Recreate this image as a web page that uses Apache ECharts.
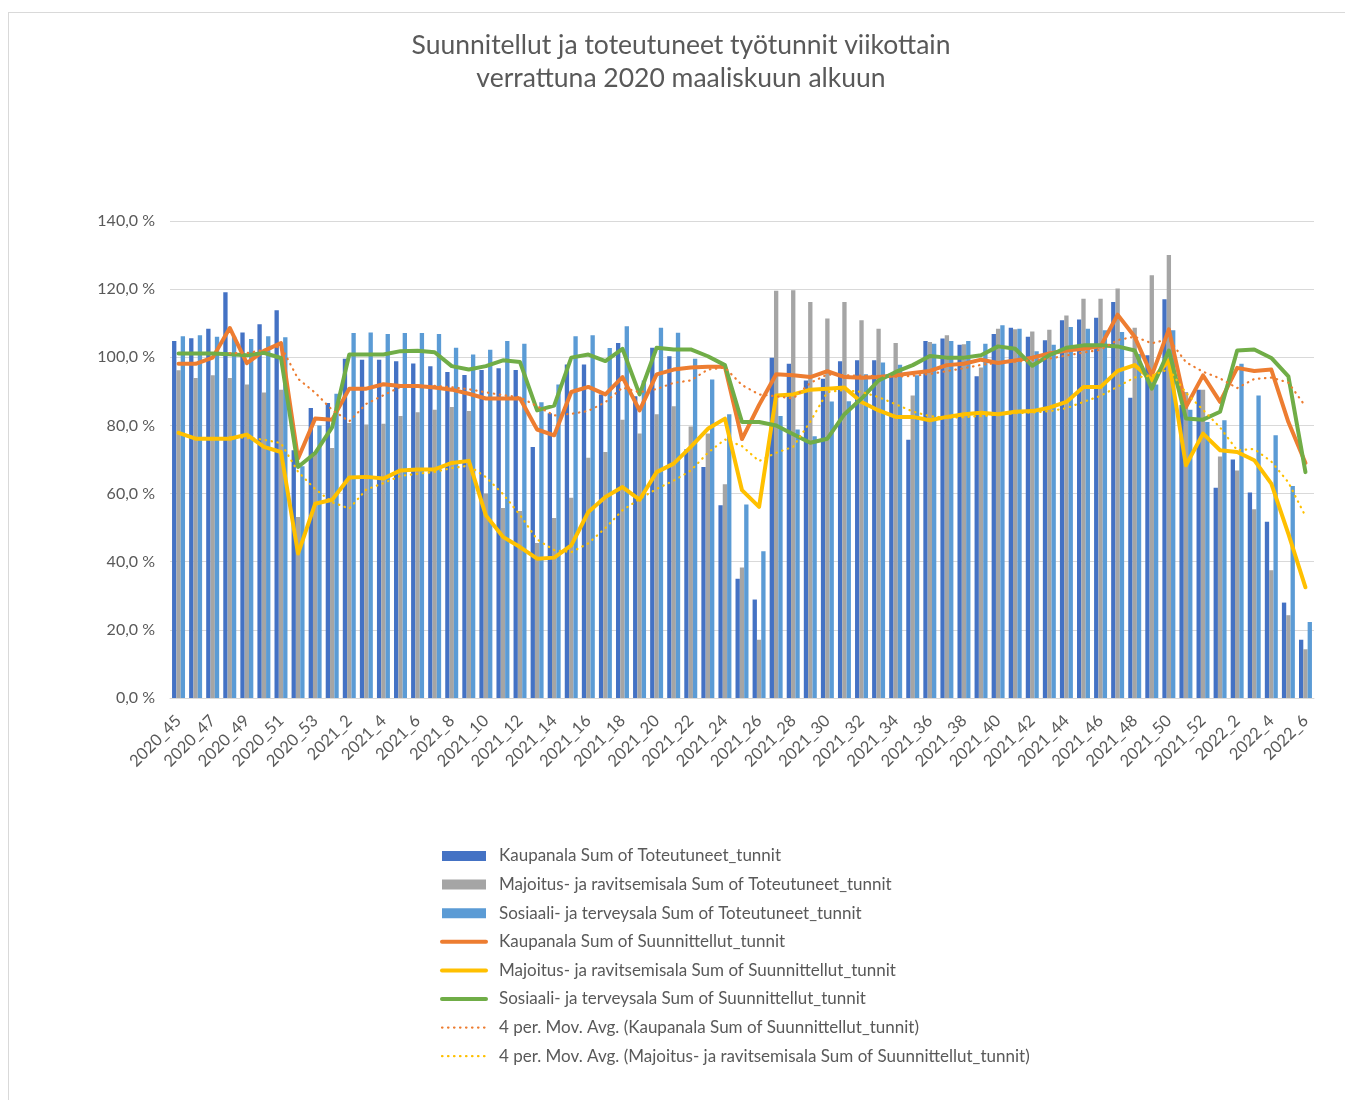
<!DOCTYPE html>
<html>
<head>
<meta charset="utf-8">
<script src="https://cdn.jsdelivr.net/npm/echarts@6/dist/echarts.min.js"></script>
<style>
  html, body { margin: 0; padding: 0; width: 1345px; height: 1100px; overflow: hidden; background: #fff; }
  #frame { position: absolute; left: 8px; top: 12px; width: 1400px; height: 1200px; border: 1px solid #d9d9d9; }
  #chart { position: absolute; left: 0; top: 0; width: 1362px; height: 1100px; }
</style>
</head>
<body>
<div id="frame"></div>
<div id="chart"></div>
<script>
// viikot 2020_45 ... 2022_6
const weeks = [
  "2020_45", "2020_46", "2020_47", "2020_48", "2020_49", "2020_50", "2020_51", "2020_52", "2020_53",
  "2021_1", "2021_2", "2021_3", "2021_4", "2021_5", "2021_6", "2021_7", "2021_8", "2021_9", "2021_10",
  "2021_11", "2021_12", "2021_13", "2021_14", "2021_15", "2021_16", "2021_17", "2021_18", "2021_19", "2021_20",
  "2021_21", "2021_22", "2021_23", "2021_24", "2021_25", "2021_26", "2021_27", "2021_28", "2021_29", "2021_30",
  "2021_31", "2021_32", "2021_33", "2021_34", "2021_35", "2021_36", "2021_37", "2021_38", "2021_39", "2021_40",
  "2021_41", "2021_42", "2021_43", "2021_44", "2021_45", "2021_46", "2021_47", "2021_48", "2021_49", "2021_50",
  "2021_51", "2021_52", "2022_1", "2022_2", "2022_3", "2022_4", "2022_5", "2022_6"
];

// toteutuneet (pylväät), % of early March 2020
const kauppaToteutunut = [
  104.8, 105.6, 108.4, 119.1, 107.3, 109.7, 113.8, 72.7, 85.1,
  86.6, 99.6, 99.3, 99.3, 98.8, 98.2, 97.4, 95.7, 94.8, 96.3,
  96.8, 96.3, 73.7, 83.6, 97.9, 97.9, 89.1, 104.2, 88.6, 102.8,
  100.3, 73.0, 67.8, 56.6, 35.0, 28.9, 99.9, 98.1, 93.2, 93.7,
  98.8, 99.1, 99.1, 94.4, 75.8, 104.8, 105.5, 103.7, 94.4, 106.8,
  108.7, 106.0, 105.0, 110.9, 111.1, 111.6, 116.2, 88.1, 100.6, 117.0,
  86.0, 90.5, 61.7, 70.0, 60.3, 51.7, 28.0, 17.1
];
const majoitusToteutunut = [
  96.2, 93.9, 94.7, 93.9, 92.0, 89.7, 90.5, 53.1, 72.0,
  73.4, 80.7, 80.3, 80.5, 82.8, 83.9, 84.6, 85.4, 84.2, 60.0,
  55.8, 54.9, 45.5, 52.8, 58.8, 70.5, 72.2, 81.7, 77.6, 83.3,
  85.6, 79.7, 77.6, 62.7, 38.3, 17.1, 119.5, 119.7, 116.2, 111.4,
  116.2, 110.9, 108.4, 104.2, 88.8, 104.5, 106.5, 103.8, 97.0, 108.4,
  108.2, 107.6, 108.1, 112.3, 117.2, 117.2, 120.2, 108.7, 124.1, 130.0,
  89.8, 90.5, 70.9, 66.8, 55.4, 37.5, 24.3, 14.3
];
const sosiaaliToteutunut = [
  106.2, 106.5, 106.0, 106.0, 105.4, 106.2, 105.9, 68.0, 80.0,
  89.3, 107.1, 107.3, 106.8, 107.1, 107.1, 106.8, 102.8, 100.8, 102.2,
  104.8, 104.0, 86.8, 92.0, 106.2, 106.5, 102.7, 109.1, 93.2, 108.7,
  107.2, 99.6, 93.5, 83.3, 56.8, 43.1, 82.8, 78.8, 76.8, 87.0,
  87.1, 95.0, 98.5, 97.8, 94.7, 104.0, 104.8, 104.8, 104.0, 109.4,
  108.4, 101.8, 103.7, 108.9, 108.4, 107.9, 107.4, 101.0, 92.0, 107.9,
  84.6, 81.0, 81.5, 98.1, 88.8, 77.1, 62.2, 22.3
];

// suunnitellut (viivat)
const kauppaSuunniteltu = [
  98.1, 98.1, 99.9, 108.6, 98.3, 101.9, 104.2, 70.3, 82.0,
  81.7, 90.8, 90.8, 92.1, 91.6, 91.6, 91.1, 90.5, 89.3, 87.9,
  87.9, 87.9, 78.8, 77.1, 89.8, 91.3, 89.1, 94.2, 84.4, 95.0,
  96.4, 97.0, 97.2, 97.2, 76.0, 86.0, 95.0, 94.7, 94.2, 95.9,
  94.2, 94.0, 94.2, 94.7, 95.4, 96.0, 97.7, 98.1, 99.3, 98.3,
  99.1, 99.9, 101.1, 102.0, 102.5, 103.2, 112.5, 106.0, 94.7, 108.2,
  85.4, 94.7, 86.9, 96.9, 96.0, 96.4, 81.0, 69.0
];
const majoitusSuunniteltu = [
  77.8, 76.1, 76.1, 76.1, 77.3, 73.7, 72.2, 42.4, 57.0,
  58.2, 64.7, 64.9, 64.4, 66.8, 67.1, 67.1, 69.0, 69.6, 53.6,
  47.3, 44.3, 40.9, 41.2, 44.8, 54.6, 59.0, 61.9, 58.2, 66.3,
  68.8, 73.7, 79.0, 82.0, 61.0, 56.1, 88.8, 89.1, 90.5, 90.8,
  91.1, 86.9, 84.4, 82.5, 82.5, 81.5, 82.5, 83.3, 83.7, 83.3,
  84.0, 84.2, 85.2, 86.9, 91.3, 91.3, 96.0, 97.7, 93.3, 99.1,
  68.3, 77.6, 72.7, 72.2, 69.8, 62.9, 48.2, 32.5
];
const sosiaaliSuunniteltu = [
  101.1, 101.1, 101.1, 100.9, 100.6, 101.3, 99.8, 67.8, 71.9,
  79.5, 100.8, 100.8, 100.8, 101.8, 101.9, 101.5, 97.4, 96.4, 97.4,
  99.1, 98.6, 84.4, 85.8, 99.9, 100.8, 98.9, 102.5, 89.1, 102.8,
  102.3, 102.3, 100.3, 97.7, 81.0, 81.0, 80.0, 77.4, 74.9, 76.1,
  83.3, 87.9, 93.2, 95.7, 97.7, 100.4, 99.9, 99.9, 100.6, 103.2,
  102.5, 97.5, 100.6, 102.8, 103.5, 103.5, 103.2, 102.0, 90.8, 102.0,
  82.0, 81.7, 84.0, 102.0, 102.3, 99.8, 94.4, 66.3
];

const yTicks = [0, 20, 40, 60, 80, 100, 120, 140];

// Excel "4 per. Mov. Avg." trendline of a planned series
function movAvg(arr, n) {
  return arr.map((v, i) => {
    if (i < n - 1) return null;
    let s = 0;
    for (let k = i - n + 1; k <= i; k++) s += arr[k];
    return +(s / n).toFixed(2);
  });
}

const txt = "#595959";
const font = "Lato, 'Noto Sans', sans-serif";
const clear = "rgba(0,0,0,0)";

function barSeries(name, data, color) {
  return { name, type: "bar", data, barGap: "0%", barCategoryGap: "24%",
    itemStyle: { color }, emphasis: { disabled: true } };
}
// itemStyle is transparent so the legend shows only the line, no marker
function lineSeries(name, data, color) {
  return { name, type: "line", data, symbol: "none", smooth: false,
    lineStyle: { color, width: 4, join: "round", cap: "round" },
    itemStyle: { color: clear, borderWidth: 0 }, emphasis: { disabled: true } };
}
function maSeries(name, data, color) {
  return { name, type: "line", data, symbol: "none",
    lineStyle: { color, width: 2.2, type: [0.5, 5.5], cap: "round" },
    itemStyle: { color: clear, borderWidth: 0 }, emphasis: { disabled: true } };
}

const option = {
  animation: false,
  textStyle: { fontFamily: font },
  title: {
    text: "Suunnitellut ja toteutuneet työtunnit viikottain\nverrattuna 2020 maaliskuun alkuun",
    left: "center",
    top: 24,
    textStyle: { fontFamily: font, fontSize: 26.5, fontWeight: "normal", color: txt, lineHeight: 33 }
  },
  grid: { left: 170, right: 48, top: 221, bottom: 402, containLabel: false },
  legend: {
    orient: "vertical",
    left: 440,
    top: 847,
    padding: 0,
    itemWidth: 44,
    itemHeight: 10,
    itemGap: 10.6,
    lineStyle: { width: "inherit", cap: "round" },
    textStyle: { fontFamily: font, fontSize: 17, color: txt, padding: [0, 0, 0, 8], lineHeight: 18 },
    data: [
      { name: "Kaupanala Sum of Toteutuneet_tunnit", icon: "rect" },
      { name: "Majoitus- ja ravitsemisala Sum of Toteutuneet_tunnit", icon: "rect" },
      { name: "Sosiaali- ja terveysala Sum of Toteutuneet_tunnit", icon: "rect" },
      "Kaupanala Sum of Suunnittellut_tunnit",
      "Majoitus- ja ravitsemisala Sum of Suunnittellut_tunnit",
      "Sosiaali- ja terveysala Sum of Suunnittellut_tunnit",
      "4 per. Mov. Avg. (Kaupanala Sum of Suunnittellut_tunnit)",
      "4 per. Mov. Avg. (Majoitus- ja ravitsemisala Sum of Suunnittellut_tunnit)"
    ]
  },
  xAxis: {
    type: "category",
    data: weeks,
    axisLine: { lineStyle: { color: "#d9d9d9", width: 1 } },
    axisTick: { show: false },
    axisLabel: { interval: 1, rotate: 45, margin: 20, fontFamily: font, fontSize: 16.5, color: txt }
  },
  yAxis: {
    type: "value",
    min: yTicks[0],
    max: yTicks[yTicks.length - 1],
    interval: 20,
    axisLine: { show: false },
    axisTick: { show: false },
    splitLine: { lineStyle: { color: "#d9d9d9", width: 1 } },
    axisLabel: {
      margin: 15, fontFamily: font, fontSize: 16, color: txt,
      formatter: v => v.toFixed(1).replace(".", ",") + " %"
    }
  },
  series: [
    barSeries("Kaupanala Sum of Toteutuneet_tunnit", kauppaToteutunut, "#4472C4"),
    barSeries("Majoitus- ja ravitsemisala Sum of Toteutuneet_tunnit", majoitusToteutunut, "#A5A5A5"),
    barSeries("Sosiaali- ja terveysala Sum of Toteutuneet_tunnit", sosiaaliToteutunut, "#5B9BD5"),
    lineSeries("Kaupanala Sum of Suunnittellut_tunnit", kauppaSuunniteltu, "#ED7D31"),
    lineSeries("Majoitus- ja ravitsemisala Sum of Suunnittellut_tunnit", majoitusSuunniteltu, "#FFC000"),
    lineSeries("Sosiaali- ja terveysala Sum of Suunnittellut_tunnit", sosiaaliSuunniteltu, "#70AD47"),
    maSeries("4 per. Mov. Avg. (Kaupanala Sum of Suunnittellut_tunnit)", movAvg(kauppaSuunniteltu, 4), "#ED7D31"),
    maSeries("4 per. Mov. Avg. (Majoitus- ja ravitsemisala Sum of Suunnittellut_tunnit)", movAvg(majoitusSuunniteltu, 4), "#FFC000")
  ]
};

const myChart = echarts.init(document.getElementById("chart"));
myChart.setOption(option);
</script>
</body>
</html>
